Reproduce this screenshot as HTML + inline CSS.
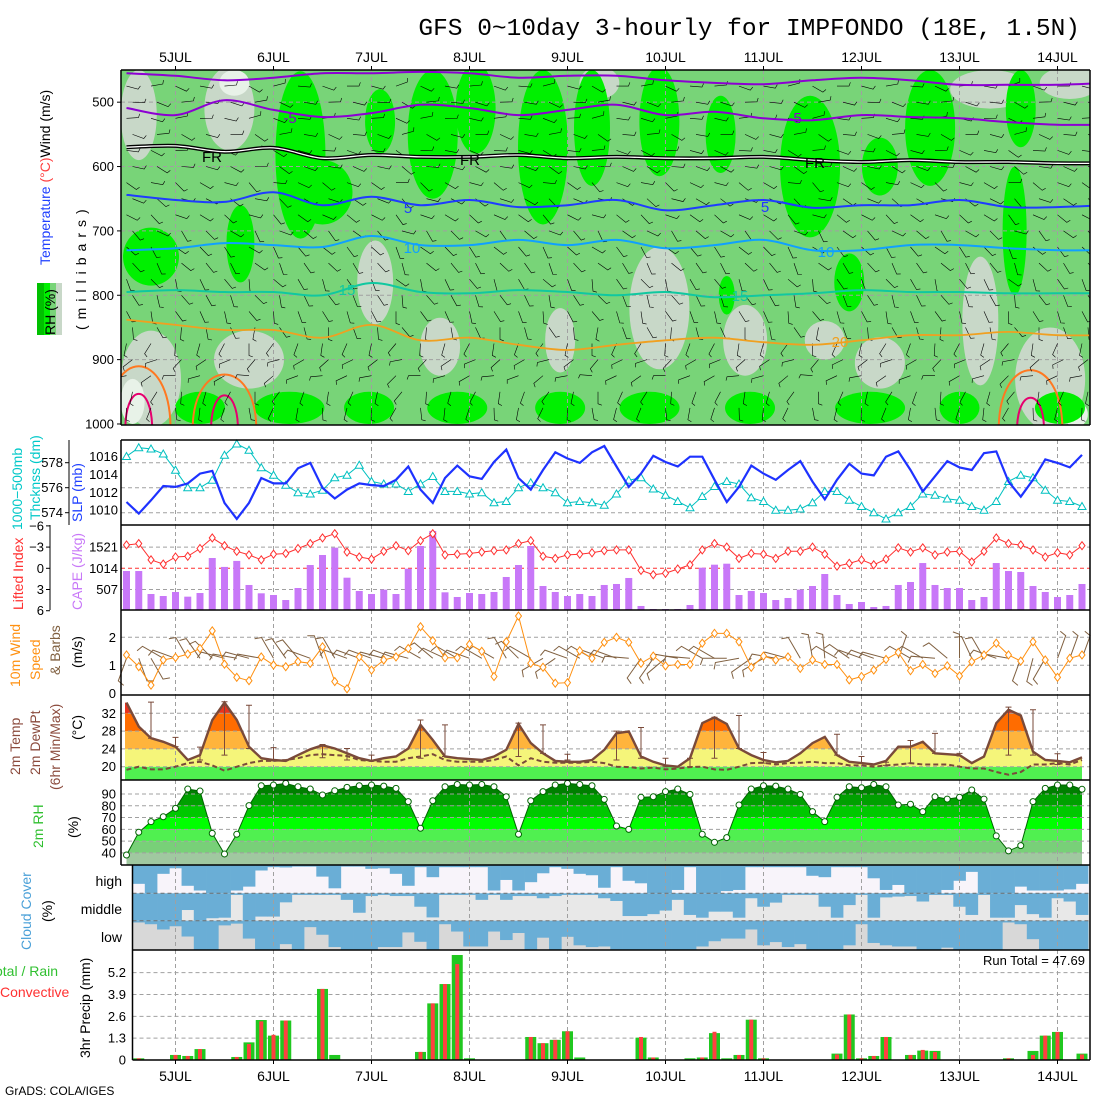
<!DOCTYPE html>
<html><head><meta charset="utf-8"><title>GFS meteogram IMPFONDO</title>
<style>
html,body{margin:0;padding:0;background:#fff;}
svg{display:block;font-family:"Liberation Sans",sans-serif;}
.t{font-size:14px;fill:#000;}
.tk{font-size:13px;fill:#000;}
</style></head><body>
<svg id="chart" width="1100" height="1100" viewBox="0 0 1100 1100" xmlns="http://www.w3.org/2000/svg">
<defs>
<clipPath id="p1clip"><rect x="121" y="70" width="969" height="355"/></clipPath>
<linearGradient id="rainbow" gradientUnits="userSpaceOnUse" x1="0" y1="265" x2="0" y2="180">
<stop offset="0" stop-color="#ff3030"/><stop offset="0.3" stop-color="#ffa020"/><stop offset="0.5" stop-color="#c0c020"/><stop offset="0.7" stop-color="#20c0a0"/><stop offset="1" stop-color="#2040ff"/></linearGradient>
</defs>
<rect x="0" y="0" width="1100" height="1100" fill="#fff"/>
<text x="1080" y="35" text-anchor="end" style="font-family:'Liberation Mono',monospace;font-size:24.5px">GFS 0~10day 3-hourly for IMPFONDO (18E, 1.5N)</text>
<g id="g1" clip-path="url(#p1clip)"></g>
<g id="g2"></g>
<g id="g3"></g>
<g id="g4"></g>
<g id="g5"></g>
<g id="g6"></g>
<g id="g7"></g>
<g id="g8"></g>
<g id="gaxes"></g>

<text class="t" transform="translate(50,265) rotate(-90)"><tspan fill="url(#rainbow)">Temperature</tspan><tspan fill="#ff4040"> (°C)</tspan><tspan fill="#000">Wind (m/s)</tspan></text>
<g>
<rect x="37" y="283" width="7" height="52" fill="#00c000"/><rect x="44" y="283" width="6" height="52" fill="#00f000"/><rect x="50" y="283" width="6" height="52" fill="#78d478"/><rect x="56" y="283" width="6" height="52" fill="#c8d8c8"/>
<text class="t" transform="translate(55,335) rotate(-90)">RH (%)</text></g>
<text class="t" transform="translate(86,330) rotate(-90)" style="letter-spacing:6px">(millibars)</text>
<text class="t" transform="translate(22,530) rotate(-90)" style="fill:#00c8c8">1000−500mb</text>
<text class="t" transform="translate(40,520) rotate(-90)" style="fill:#00c8c8">Thcknss (dm)</text>
<text class="t" transform="translate(82,522) rotate(-90)" style="fill:#2040ff">SLP (mb)</text>
<text class="t" transform="translate(23,610) rotate(-90)" style="fill:#ff3030">Lifted Index</text>
<text class="t" transform="translate(82,610) rotate(-90)" style="fill:#c878f8">CAPE (J/kg)</text>
<text class="t" transform="translate(20,687) rotate(-90)" style="fill:#ff9010">10m Wind</text>
<text class="t" transform="translate(40,680) rotate(-90)" style="fill:#ff9010">Speed</text>
<text class="t" transform="translate(60,675) rotate(-90)" style="fill:#806040">&amp; Barbs</text>
<text class="t" transform="translate(82,668) rotate(-90)">(m/s)</text>
<text class="t" transform="translate(20,775) rotate(-90)" style="fill:#8b4a3c">2m Temp</text>
<text class="t" transform="translate(40,775) rotate(-90)" style="fill:#8b4a3c">2m DewPt</text>
<text class="t" transform="translate(60,790) rotate(-90)" style="fill:#8b4a3c">(6hr Min/Max)</text>
<text class="t" transform="translate(82,740) rotate(-90)">(°C)</text>
<text class="t" transform="translate(43,848) rotate(-90)" style="fill:#30c030">2m RH</text>
<text class="t" transform="translate(78,838) rotate(-90)">(%)</text>
<text class="t" transform="translate(31,950) rotate(-90)" style="fill:#4aa0d8">Cloud Cover</text>
<text class="t" transform="translate(52,922) rotate(-90)">(%)</text>
<text class="t" x="122" y="886" text-anchor="end">high</text>
<text class="t" x="122" y="914" text-anchor="end">middle</text>
<text class="t" x="122" y="942" text-anchor="end">low</text>
<text class="t" x="-12" y="976" style="fill:#30c030">Total / Rain</text>
<text class="t" x="0" y="997" style="fill:#ff3030">Convective</text>
<text class="t" transform="translate(90,1058) rotate(-90)">3hr Precip (mm)</text>
<text x="1085" y="965" text-anchor="end" style="font-size:13px">Run Total = 47.69</text>
<text x="5" y="1095" style="font-size:12px">GrADS: COLA/IGES</text>
</svg>
<script>
const dayLabels=["5JUL","6JUL","7JUL","8JUL","9JUL","10JUL","11JUL","12JUL","13JUL","14JUL"];
const slp=[1010.9,1009.6,1011.1,1012.7,1012.6,1013.0,1014.1,1014.4,1010.8,1009.0,1010.8,1013.6,1013.0,1013.0,1014.7,1015.3,1012.5,1011.3,1012.3,1013.0,1012.8,1012.7,1013.4,
1014.9,1012.3,1010.8,1013.6,1015.0,1013.8,1013.5,1015.4,1016.8,1013.6,1012.3,1014.5,1016.5,1015.8,1015.3,1016.5,1017.2,1014.9,1012.6,1014.1,1016.1,1015.4,1014.9,1016.0,1016.0,1013.4,1010.9,1012.6,1015.0,1014.1,
1013.4,1014.5,1015.5,1013.2,1011.2,1013.4,1015.2,1014.1,1013.9,1016.0,1016.6,1014.5,1012.1,1013.8,1015.5,1014.8,1014.5,1016.4,1016.6,1013.2,1011.5,1013.4,1015.7,1015.3,1014.8,1016.2];
const thk=[578.5,579.2,579.1,578.7,577.4,576.0,576.0,576.6,578.6,579.5,579.0,577.6,577.0,576.2,575.6,575.5,575.8,576.8,577.0,577.8,576.5,576.3,576.3,
575.7,576.3,576.9,575.7,575.7,575.5,575.6,574.8,574.9,576.0,576.4,576.0,575.6,574.8,574.9,574.8,574.6,575.5,576.6,576.8,575.9,575.4,574.9,574.4,575.3,576.1,576.5,576.3,575.2,574.9,
574.2,574.2,574.3,574.8,575.7,575.7,575.0,574.5,574.0,573.5,574.0,574.5,575.5,575.4,575.1,575.0,574.5,574.2,574.9,576.5,577.0,576.8,575.8,575.0,574.9,574.5];
const liftedIndex=[-3.3,-3.5,-1.2,-0.6,-1.6,-1.7,-2.8,-4.3,-3.2,-2.4,-1.9,-1.2,-2.0,-2.1,-2.8,-3.5,-4.3,-4.9,-2.3,-1.6,-1.3,-2.4,-3.2,
-2.5,-3.9,-4.9,-1.9,-2.0,-2.1,-2.3,-2.5,-2.6,-3.5,-3.9,-1.7,-1.4,-1.9,-2.0,-2.2,-2.5,-2.6,-2.6,0.3,0.9,0.7,0.1,-0.5,-2.6,-3.5,-3.0,-1.4,-2.1,-2.0,
-1.4,-2.4,-2.4,-3.0,-2.0,-0.3,-0.7,-1.2,-0.5,-1.3,-2.9,-2.3,-2.9,-1.9,-2.3,-2.4,-0.9,-2.4,-4.3,-3.5,-3.3,-2.6,-1.6,-2.2,-1.9,-3.2];
const cape=[941,941,386,338,435,322,410,1255,1040,1185,604,403,362,241,531,1086,1328,1505,780,459,386,491,386,
997,1545,1908,427,314,410,386,435,797,1086,1545,579,435,338,386,338,604,628,773,97,24,24,24,121,1021,1094,1118,362,459,410,
241,290,491,579,869,362,145,193,72,97,604,676,1134,604,531,531,241,314,1134,941,917,579,435,314,362,628];
const wind10=[1.37,0.95,0.29,1.19,1.28,1.40,1.60,2.23,1.04,0.57,0.45,1.30,1.01,0.95,1.13,1.07,1.66,0.42,0.16,1.30,0.83,1.19,1.30,
1.60,2.38,1.88,1.27,1.27,1.75,1.50,0.60,1.84,2.76,1.07,0.93,0.36,0.38,1.52,1.25,1.82,2.00,1.82,1.07,1.33,0.98,1.03,1.03,1.79,2.14,2.14,1.84,0.93,1.33,
1.19,1.30,0.89,1.19,1.03,1.03,0.48,0.60,0.83,1.21,1.46,0.81,1.03,0.71,0.98,0.62,1.13,1.37,1.79,1.37,1.15,1.84,1.19,0.57,1.25,1.37];
const wind10Dir=[200,160,150,300,290,330,325,315,285,280,285,280,330,325,320,290,340,330,290,290,290,285,290,
285,300,310,295,300,290,300,300,330,315,300,240,235,290,300,300,290,290,275,215,215,230,280,275,300,300,270,260,235,240,
280,285,330,350,355,300,305,290,290,285,20,300,300,275,310,0,335,330,290,280,200,195,210,20,20,20];
const temp2m=[34.4,29.0,26.4,25.6,24.5,21.5,22.6,30.5,34.4,30.5,24.5,21.9,21.5,21.3,22.6,23.9,24.8,24.1,23.0,21.9,21.3,21.9,22.3,
24.1,29.4,26.0,22.3,21.9,21.7,21.5,22.3,23.8,29.6,25.3,23.0,21.3,21.1,21.1,21.5,23.8,27.5,27.9,22.3,21.1,20.3,20.0,21.9,29.8,31.1,29.6,24.1,22.6,21.5,
21.0,21.3,23.0,25.3,26.7,22.6,21.1,20.8,20.5,21.3,24.5,24.5,25.6,23.0,22.8,22.6,20.8,22.3,29.8,32.8,31.5,23.4,21.5,21.3,21.0,22.1];
const dew2m=[19.3,20.0,19.4,19.4,20.0,20.8,21.1,20.3,19.1,20.0,20.8,21.3,21.3,21.5,21.9,22.6,22.8,22.6,22.4,21.5,21.3,21.1,21.1,
21.9,22.3,22.8,21.5,21.1,21.1,21.1,21.5,22.3,20.3,21.9,21.1,20.9,20.9,20.9,21.1,20.8,20.0,19.9,19.6,19.8,19.4,19.6,19.9,20.0,19.4,19.3,20.0,20.8,20.9,
20.5,20.8,20.9,21.1,20.8,20.8,20.3,20.3,20.0,20.3,20.5,20.8,20.5,20.5,20.5,20.0,19.6,19.6,18.8,18.2,18.8,20.5,20.5,20.8,20.5,21.5];
const tmax6=[null,34.5,26.6,24.4,34.6,33.8,24.3,null,25.0,24.1,22.6,null,30.5,29.4,null,null,29.8,29.4,22.8,null,28.0,28.8,21.9,21.9,31.1,31.5,23.2,null,null,27.3,22.3,21.0,25.9,27.5,23.0,null,33.4,32.8,22.9,null];
const tmin6=[null,26.4,24.5,21.5,22.6,24.1,21.3,null,22.0,21.5,21.3,null,21.9,22.3,null,null,22.3,23.0,21.5,null,21.5,21.9,20.0,20.0,21.9,24.1,20.8,null,null,22.6,20.8,20.3,20.8,23.0,22.4,null,22.6,22.6,20.5,null];
const rh2m=[38.2,57.5,66.5,70.7,77.8,94.2,92.5,56.6,39.1,55.8,80.1,97.0,97.6,99.0,96.2,94.2,89.2,92.8,95.6,97.0,97.6,96.7,94.8,
83.5,60.9,84.3,96.2,98.1,97.6,98.1,96.2,87.7,55.8,84.3,92.0,97.6,99.0,98.1,97.0,85.4,62.8,60.0,87.2,87.7,92.0,94.2,89.7,55.8,49.0,53.0,80.7,94.2,97.0,
96.7,94.2,89.7,75.0,66.5,87.2,96.2,95.3,98.1,96.2,80.7,81.3,75.0,87.7,85.7,87.2,93.4,85.7,54.4,41.7,46.2,83.5,94.8,97.6,97.6,94.0];
const cloudHigh=[0.66,1.0,0.30,0.10,0.73,0.90,1.0,1.0,0.90,0.76,0.18,0.06,0.07,0.04,0.04,0.40,0.82,0.04,0.04,0.12,0.10,0.30,
0.73,0.06,0.42,0.06,0.06,0.06,0.06,0.90,0.52,0.90,0.60,0.28,0.06,0.12,0.30,0.35,0.80,0.06,0.55,0.64,1.0,1.0,0.88,0.06,1.0,1.0,0.92,0.88,0.06,
0.06,0.06,0.06,0.06,0.37,0.42,0.06,0.06,0.06,0.46,0.88,0.70,1.0,1.0,1.0,0.88,0.55,0.23,1.0,1.0,1.0,0.76,0.90,0.90,0.90,0.86,0.66];
const cloudMid=[1,1,1,1,0.61,1,0.91,0.89,0.06,1,0.85,0.85,0.33,0.06,0.06,0.06,0.06,0.24,0.71,0.10,0.06,0.10,
0.10,0.49,0.88,0.06,0.06,0.06,0.24,0.06,0.24,0.10,0.10,0.18,0.10,0.06,0.06,0.06,0.18,0.28,0.83,0.83,0.76,0.63,0.24,0.79,0.89,0.67,0.67,0.89,0.18,
0.49,0.34,0.06,0.06,0.06,0.49,0.89,0.43,0.06,0.89,0.15,0.12,0.10,0.30,0.06,0.06,0.49,0.79,0.06,0.89,0.89,0.43,0.76,0.89,0.18,0.30,0.79];
const cloudLow=[0.06,0.12,0.30,0.19,0.54,1,1,0.16,0.10,0.61,1,1,0.80,1,0.22,0.48,0.90,1,1,1,0.9,0.9,
0.40,0.72,1,0.12,0.37,0.88,0.88,0.37,0.66,0.42,1,0.58,1,0.55,0.84,0.90,0.88,1,1,1,1,1,1,1,0.88,0.70,0.61,0.61,0.30,
0.84,0.73,0.90,0.80,1,1,1,0.84,0.12,0.76,0.84,0.88,0.88,1,1,0.92,1,1,1,1,0.06,0.12,0.63,1,1,1,1];
const precipTotal=[0.1,0,0,0.3,0.24,0.65,0,0,0.18,1.05,2.38,1.45,2.35,0,0,4.23,0.3,0,0,0,0,0,0,0.48,3.37,4.52,6.25,0.1,0,0,0,0,1.37,1.0,1.2,1.71,0.15,0,0,0,0,1.33,0.15,0,0,0.1,0.15,1.6,0.1,0.3,2.4,0.1,0,0,0,0,0,0.38,2.71,0.1,0.24,1.37,0,0.3,0.56,0.54,0,0,0,0,0,0.1,0,0.54,1.45,1.67,0,0.38];
const precipConv=[0.1,0,0,0.3,0.24,0.65,0,0,0.18,0.95,2.3,1.5,2.35,0,0,4.23,0,0,0,0,0,0,0,0.48,3.37,4.52,5.71,0,0,0,0,0,1.37,1.0,1.2,1.71,0,0,0,0,0,1.37,0.15,0,0,0,0.15,1.68,0,0.3,2.4,0.1,0,0,0,0,0,0.33,2.71,0.1,0.24,1.37,0,0.3,0.6,0.48,0,0,0,0,0,0.1,0,0.3,1.45,1.67,0,0.33];
const isoM10=[455,459,466,462,455,455,453,455,462,459,459,466,470,472,466,462,466,473,473,473,470];
const isoM5=[509,520,497,512,523,517,504,509,520,512,504,520,515,525,528,520,523,525,531,535,535];
const isoFR=[570,568,577,571,587,582,585,585,582,587,585,587,587,585,590,593,590,593,593,595,595];
const iso5=[644,652,655,640,660,647,660,652,663,660,652,668,660,652,664,660,660,652,663,663,660];
const iso10=[730,727,719,722,725,708,722,722,714,722,714,727,722,714,730,730,722,722,727,730,730];
const iso15=[795,792,795,795,800,781,795,797,792,795,800,795,803,800,797,792,795,795,797,797,797];
const iso20=[838,846,854,854,866,846,870,866,877,885,877,870,866,873,877,870,862,862,857,862,862];
const warmCenter=[1,8,73.8];
const warm25Top=[896,913,904];
const warm30Top=[947,950,955];
const patchI=[1,8.4,20.3,43.5,50.5,69.7,75.4,2,10,25.6,35.4,61.5,70.5,77,38.6,57, 8.8,0.5,77.5,
14.2,16,25,28.5,34,38,43.5,48.5,55.8,65.6,73,72.5,2,9.3,49,59,61.5,20.7,6,13.3,19.8,27,35.4,42.7,50.9,60.7,68,76.2];
const patchP=[520,510,780,820,870,840,930,930,900,880,870,905,480,470,470,870, 470,965,985,
582,640,550,510,570,540,530,550,600,540,510,700,740,720,800,780,600,530,975,975,975,975,975,975,975,975,975,975];
const patchW=[18,25,18,30,22,18,35,30,35,20,15,25,40,30,20,20, 15,12,12,
25,30,25,20,25,18,20,15,30,25,15,12,28,14,8,15,18,15,25,35,25,30,25,30,25,35,20,25];
const patchH=[70,65,65,95,55,100,80,75,45,45,50,40,30,25,25,30, 20,35,20,
130,50,100,70,120,90,85,60,110,90,60,100,45,60,30,45,45,50,25,25,25,25,25,25,25,25,25,25];
const patchKind=["g","g","g","g","g","g","g","g","g","g","g","g","g","g","g","g","w","w","w",
"b","b","b","b","b","b","b","b","b","b","b","b","b","b","b","b","b","b","b","b","b","b","b","b","b","b","b","b"];
const barbLevels=[475,500,525,550,575,600,625,650,675,700,725,750,775,800,825,850,875,900,925,950,975];
const barbLevelDir=[95,100,95,100,105,110,115,120,125,130,140,145,150,155,160,165,200,240,250,200,190];
const barbColWobble=[10,-15,20,5,-10,25,-20,0,15,-5,10,-25,20,5,-10,15,0,-20,10,25,-5,-15,20,0,-10,15,5,-20,25,-5,10,-15,0,20,-10,5,-25,15,-5,10];

const NS="http://www.w3.org/2000/svg";
const xT=i=>126.5+12.25*i;
const xDay=k=>175.5+98*k;
const yP=p=>70+(p-450)*0.6436;
const ySLP=v=>456.7-(v-1016)*8.89;
const yTHK=v=>462.7-(v-578)*12.5;
const yLI=v=>568.3+v*7.07;
const yCAPE=v=>610-v*21/507;
const yW=v=>693.3-v*28;
const yT=v=>713.3-(v-32)*4.45;
const yRH=v=>794-(v-90)*1.178;
const yPR=v=>1060-v*16.8;
function mk(tag,parent){const e=document.createElementNS(NS,tag);parent.appendChild(e);return e;}
function at(e,o){for(const k in o)e.setAttribute(k,o[k]);return e;}
const G=id=>document.getElementById(id);
function pts(arr,fy,fx){return arr.map((v,i)=>(fx?fx(i):xT(i)).toFixed(1)+","+fy(v).toFixed(1)).join(" ");}
function smoothPath(xs,ys){let d="M"+xs[0]+","+ys[0];for(let i=0;i<xs.length-1;i++){const x0=xs[Math.max(0,i-1)],y0=ys[Math.max(0,i-1)],x1=xs[i],y1=ys[i],x2=xs[i+1],y2=ys[i+1],x3=xs[Math.min(xs.length-1,i+2)],y3=ys[Math.min(xs.length-1,i+2)];d+=" C"+(x1+(x2-x0)/6).toFixed(1)+","+(y1+(y2-y0)/6).toFixed(1)+" "+(x2-(x3-x1)/6).toFixed(1)+","+(y2-(y3-y1)/6).toFixed(1)+" "+x2.toFixed(1)+","+y2.toFixed(1);}return d;}
function hgrid(g,y,x0,x1,color){const l=mk("line",g);at(l,{x1:x0,x2:x1,y1:y,y2:y,stroke:color||"#a0a0a0","stroke-width":1,"stroke-dasharray":"4,3"});}
function vgrids(g,y0,y1){for(let k=0;k<10;k++){const l=mk("line",g);at(l,{x1:xDay(k),x2:xDay(k),y1:y0,y2:y1,stroke:"#a0a0a0","stroke-width":1,"stroke-dasharray":"4,3"});}}
function tick(parent,x,y,txt,anchor,color){const t=mk("text",parent);at(t,{x:x,y:y+4.5,"text-anchor":anchor||"end",class:"tk"});if(color)t.style.fill=color;t.textContent=txt;}
function barb(g,x,y,ang,len,tk,color,w){const a=ang*Math.PI/180;const ex=x+len*Math.sin(a),ey=y-len*Math.cos(a);const b=(ang-70)*Math.PI/180;const l=mk("path",g);at(l,{d:`M${x.toFixed(1)},${y.toFixed(1)} L${ex.toFixed(1)},${ey.toFixed(1)} L${(ex+tk*Math.sin(b)).toFixed(1)},${(ey-tk*Math.cos(b)).toFixed(1)}`,fill:"none",stroke:color,"stroke-width":w});return l;}

const g1=G("g1");
const bg=mk("rect",g1);at(bg,{x:121,y:70,width:969,height:355,fill:"#78d478"});

const pcol={g:"#c8d8c8",w:"#e8f2e8",b:"#00f000"};
for(let k=0;k<patchI.length;k++){const e=mk("ellipse",g1);at(e,{cx:xT(patchI[k]),cy:yP(patchP[k]),rx:patchW[k],ry:patchH[k]*0.6436,fill:pcol[patchKind[k]]});

}
vgrids(g1,70,425);
[500,600,700,800,900].forEach(p=>hgrid(g1,yP(p),121,1090));
for(let k=0;k<warmCenter.length;k++){const c=warmCenter[k];const x0=xT(c-2.6),x1=xT(c+2.6),yt=yP(warm25Top[k]);
const p=mk("path",g1);at(p,{d:`M${x0},430 C${x0},${yt-12} ${x1},${yt-12} ${x1},430`,fill:"none",stroke:"#ff7820","stroke-width":2});

const q0=xT(c-1.1),q1=xT(c+1.1),qt=yP(warm30Top[k]);
const q=mk("path",g1);at(q,{d:`M${q0},430 C${q0},${qt-8} ${q1},${qt-8} ${q1},430`,fill:"none",stroke:"#e6006e","stroke-width":2});
}
for(let r=0;r<barbLevels.length;r++){for(let c=0;c<40;c++){const x=xT(2*c)+(r%2?6:0);const y=yP(barbLevels[r]);
const b=barb(g1,x,y,barbLevelDir[r]+barbColWobble[c]*(r%3===0?1:-0.8),12,4,"#000",0.6);

}}
const isoSets=[[isoM10,"#8c00d2",2,"isotherm-minus10"],[isoM5,"#8c00d2",2,"isotherm-minus5"],[iso5,"#1e3cff",2,"isotherm-5"],[iso10,"#10a0ff",2,"isotherm-10"],[iso15,"#10c8a0",2,"isotherm-15"],[iso20,"#f0a020",1.8,"isotherm-20"]];
const isoX=isoM10.map((v,k)=>xT(4*k));
isoSets.forEach(s=>{const p=mk("path",g1);at(p,{d:smoothPath(isoX,s[0].map(yP)),fill:"none",stroke:s[1],"stroke-width":s[2]});
});
const fr1=mk("path",g1);at(fr1,{d:smoothPath(isoX,isoFR.map(yP)),fill:"none",stroke:"#000","stroke-width":4});

const fr2=mk("path",g1);at(fr2,{d:smoothPath(isoX,isoFR.map(yP)),fill:"none",stroke:"#fff","stroke-width":1.3});

const clabels=[["-5",290,123,"#8c00d2"],["-5",795,123,"#8c00d2"],["FR",212,162,"#000"],["FR",470,165,"#000"],["FR",815,168,"#000"],["5",408,213,"#1e3cff"],["5",765,212,"#1e3cff"],["10",412,253,"#10a0ff"],["10",826,257,"#10a0ff"],["15",347,295,"#10c8a0"],["15",740,301,"#10c8a0"],["20",840,347,"#f0a020"]];
clabels.forEach(c=>{const t=mk("text",g1);at(t,{x:c[1],y:c[2],"text-anchor":"middle"});t.style.fontSize="15px";t.style.fill=c[3];t.textContent=c[0];
});
const ga=G("gaxes");
[500,600,700,800,900,1000].forEach(p=>tick(ga,114,yP(p),String(p)));

const g2=G("g2");
vgrids(g2,440,525);
[578,576,574].forEach(v=>{hgrid(g2,yTHK(v),121,1090);tick(ga,63,yTHK(v),String(v));});
[1016,1014,1012,1010].forEach(v=>tick(ga,118,ySLP(v),String(v)));
const thkLine=mk("polyline",g2);at(thkLine,{points:pts(thk,yTHK),fill:"none",stroke:"#00c0c0","stroke-width":1});

thk.forEach((v,i)=>{const x=xT(i),y=yTHK(v);const m=mk("polygon",g2);at(m,{points:`${x},${y-4} ${x-4},${y+3} ${x+4},${y+3}`,fill:"#fff",stroke:"#00c0c0","stroke-width":1});

});
const slpLine=mk("polyline",g2);at(slpLine,{points:pts(slp,ySLP),fill:"none",stroke:"#1e32ff","stroke-width":2.2});


const g3=G("g3");
vgrids(g3,525,610);
hgrid(g3,yLI(-3),121,1090);hgrid(g3,yLI(3),121,1090);hgrid(g3,yLI(0),121,1090,"#ff3030");
[-6,-3,0,3,6].forEach(v=>tick(ga,44,yLI(v),v<0?"−"+Math.abs(v):String(v)));
[[1521,-3],[1014,0],[507,3]].forEach(a=>tick(ga,118,yLI(a[1]),String(a[0])));
cape.forEach((v,i)=>{const r=mk("rect",g3);at(r,{x:xT(i)-3.5,y:Math.max(525,yCAPE(v)),width:7,height:610-Math.max(525,yCAPE(v)),fill:"#c878f8"});

});
const liLine=mk("polyline",g3);at(liLine,{points:pts(liftedIndex,yLI),fill:"none",stroke:"#ff3030","stroke-width":1});

liftedIndex.forEach((v,i)=>{const x=xT(i),y=yLI(v);const m=mk("polygon",g3);at(m,{points:`${x},${y-4} ${x+3},${y} ${x},${y+4} ${x-3},${y}`,fill:"#fff",stroke:"#ff3030","stroke-width":1});

});

const g4=G("g4");
vgrids(g4,610,695);
[1,2].forEach(v=>hgrid(g4,yW(v),121,1090));
[0,1,2].forEach(v=>tick(ga,116,yW(v),String(v)));
wind10Dir.forEach((d,i)=>{const b=barb(g4,xT(i),yW(1.25),d,24,7,"#806040",1);

});
const wLine=mk("polyline",g4);at(wLine,{points:pts(wind10,yW),fill:"none",stroke:"#ff9010","stroke-width":1});

wind10.forEach((v,i)=>{const x=xT(i),y=yW(v);const m=mk("polygon",g4);at(m,{points:`${x},${y-4} ${x+3},${y} ${x},${y+4} ${x-3},${y}`,fill:"#fff",stroke:"#ff9010","stroke-width":1});

});

const g5=G("g5");
const defs=document.querySelector("defs");
const cpT=mk("clipPath",defs);cpT.setAttribute("id","tclip");
const cpTp=mk("polygon",cpT);cpTp.setAttribute("points",pts(temp2m,yT)+` ${xT(78)},780 ${xT(0)-1.5},780 ${xT(0)-1.5},${yT(temp2m[0])}`);
const tBands=[[17,20,"#50f050"],[20,24,"#f5f57a"],[24,28,"#ffb43c"],[28,32,"#ff6c00"],[32,37,"#e8321e"]];
const tFill=mk("g",g5);tFill.setAttribute("clip-path","url(#tclip)");

tBands.forEach(b=>{const r=mk("rect",tFill);at(r,{x:121,y:yT(b[1]),width:969,height:yT(b[0])-yT(b[1]),fill:b[2]});

});
vgrids(g5,695,780);
[20,24,28,32].forEach(v=>{hgrid(g5,yT(v),121,1090);tick(ga,116,yT(v),String(v));});
tmax6.forEach((v,k)=>{if(v===null)return;const x=xT(2*k);const e=mk("path",g5);at(e,{d:`M${x},${yT(v)} V${yT(tmin6[k])} M${x-3},${yT(v)} H${x+3} M${x-3},${yT(tmin6[k])} H${x+3}`,stroke:"#7a4a3a","stroke-width":1,fill:"none"});

});
const dLine=mk("polyline",g5);at(dLine,{points:pts(dew2m,yT),fill:"none",stroke:"#7a4a3a","stroke-width":2,"stroke-dasharray":"5,3"});

const tLine=mk("polyline",g5);at(tLine,{points:pts(temp2m,yT),fill:"none",stroke:"#7a4a3a","stroke-width":2.4});


const g6=G("g6");
const cpR=mk("clipPath",defs);cpR.setAttribute("id","rclip");
const cpRp=mk("polygon",cpR);cpRp.setAttribute("points",pts(rh2m,yRH)+` ${xT(78)},865 ${xT(0)},865`);
const rBands=[[25,40,"#a0c8a0"],[40,50,"#78d078"],[50,60,"#50f050"],[60,70,"#00ff00"],[70,80,"#00c800"],[80,90,"#00a000"],[90,105,"#007f00"]];
const rFill=mk("g",g6);rFill.setAttribute("clip-path","url(#rclip)");

rBands.forEach(b=>{const r=mk("rect",rFill);at(r,{x:121,y:yRH(b[1]),width:969,height:yRH(b[0])-yRH(b[1]),fill:b[2]});

});
vgrids(g6,780,865);
[40,50,60,70,80,90].forEach(v=>{hgrid(g6,yRH(v),121,1090);tick(ga,116,yRH(v),String(v));});
const rLine=mk("polyline",g6);at(rLine,{points:pts(rh2m,yRH),fill:"none",stroke:"#006400","stroke-width":1});

rh2m.forEach((v,i)=>{const c=mk("circle",g6);at(c,{cx:xT(i),cy:yRH(v),r:3,fill:"#fff",stroke:"#006400","stroke-width":1});

});

const g7=G("g7");
const rows=[[cloudHigh,865.5,27.8,"#f8f4fa"],[cloudMid,893.3,27.4,"#e8e8e8"],[cloudLow,920.7,29.3,"#d8d8d8"]];
rows.forEach(rw=>{const r=mk("rect",g7);at(r,{x:132.5,y:rw[1],width:957.5,height:rw[2],fill:rw[3]});

rw[0].forEach((v,j)=>{const b=mk("rect",g7);at(b,{x:xT(j+1)-6.2,y:rw[1],width:12.6,height:v*rw[2],fill:"#6aaed6"});

});});
vgrids(g7,865,950);
[893.3,920.7].forEach(y=>hgrid(g7,y,132.5,1090,"#707070"));

const g8=G("g8");
vgrids(g8,950,1060);
[1.3,2.6,3.9,5.2].forEach(v=>{hgrid(g8,yPR(v),132.5,1090);tick(ga,126,yPR(v),String(v));});
tick(ga,126,yPR(0),"0");
precipTotal.forEach((v,j)=>{if(v<=0)return;const x=xT(j+1);const b=mk("rect",g8);at(b,{x:x-5.5,y:yPR(v),width:11,height:1060-yPR(v),fill:"#20c820"});

});
precipConv.forEach((v,j)=>{if(v<=0)return;const x=xT(j+1);const b=mk("rect",g8);at(b,{x:x-2,y:yPR(v),width:4,height:1060-yPR(v),fill:"#ff4040"});

});

function L(x1,y1,x2,y2,w){const l=mk("line",ga);at(l,{x1:x1,y1:y1,x2:x2,y2:y2,stroke:"#000","stroke-width":w||1.5});}
L(121,70,1090,70);L(121,425,1090,425);L(121,70,121,425);L(1090,70,1090,425);
[440,525,610,695,780,865].forEach(y=>L(121,y,1090,y));
L(132.5,950,1090,950);L(132.5,1060,1090,1060);
L(121,440,121,865);L(132.5,865,132.5,1060);L(1090,440,1090,1060);
L(69,440,69,525,1);L(50,525,50,610,1);
[578,576,574].forEach(v=>L(65,yTHK(v),69,yTHK(v),1));
[-6,-3,0,3,6].forEach(v=>L(46,yLI(v),50,yLI(v),1));
[500,600,700,800,900,1000].forEach(p=>L(117,yP(p),121,yP(p),1));
dayLabels.forEach((d,k)=>{L(xDay(k),66,xDay(k),70,1);L(xDay(k),1060,xDay(k),1064,1);
const t=mk("text",ga);at(t,{x:xDay(k),y:62,"text-anchor":"middle"});t.style.fontSize="14px";t.textContent=d;

const b=mk("text",ga);at(b,{x:xDay(k),y:1081,"text-anchor":"middle"});b.style.fontSize="14px";b.textContent=d;
});
</script>
</body></html>
